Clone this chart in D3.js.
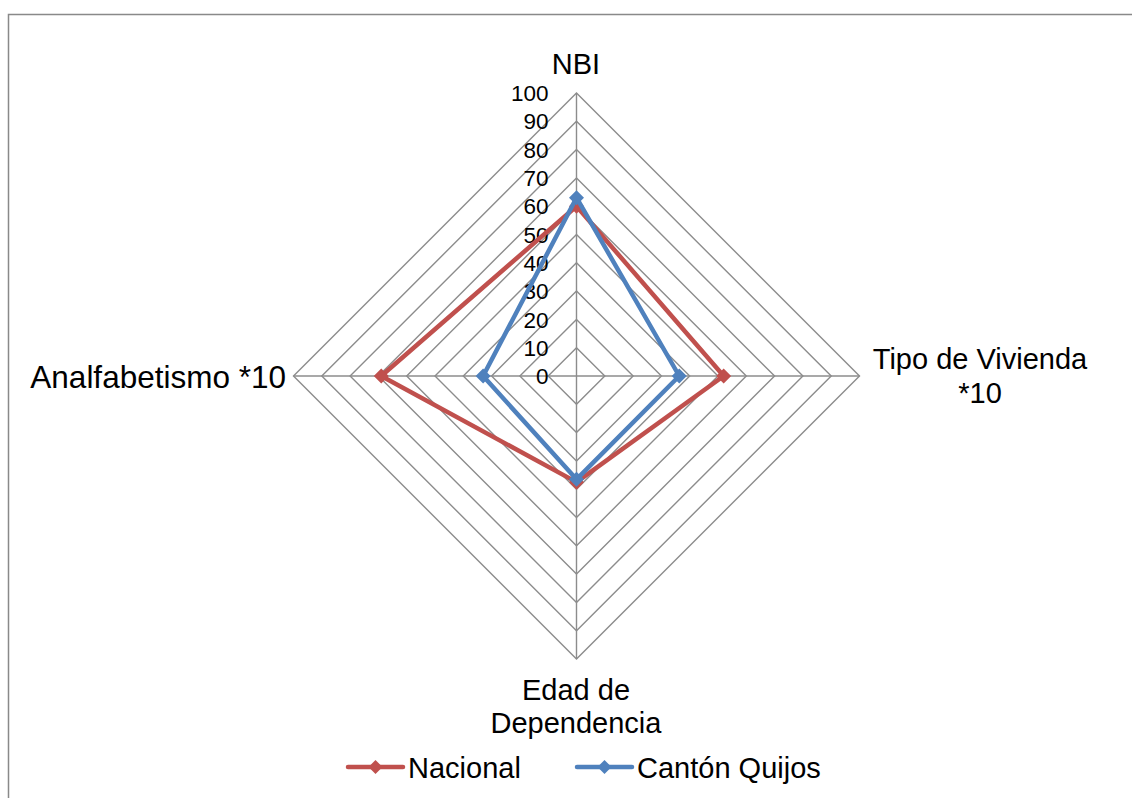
<!DOCTYPE html>
<html>
<head>
<meta charset="utf-8">
<script src="https://cdn.jsdelivr.net/npm/d3@7"></script>
<style>
  body { margin: 0; background: #fff; }
  svg { display: block; font-family: "Liberation Sans", Arial, sans-serif; }
</style>
</head>
<body>
<script>
// data
var axes = ["NBI", "Tipo de Vivienda *10", "Edad de Dependencia", "Analfabetismo *10"];
var seriesNames = ["Nacional", "Cantón Quijos"];
var nacional = [60, 52, 37.5, 69];
var quijos = [63, 36.3, 36.5, 33];
var ticks = [0, 10, 20, 30, 40, 50, 60, 70, 80, 90, 100];
var colors = ["#C0504D", "#4F81BD"];

var width = 1132, height = 798;
var cx = 576.5, cy = 376;

var svg = d3.select("body").append("svg")
    .attr("width", width)
    .attr("height", height);

// chart frame (runs off the right and bottom edges)
svg.append("rect")
    .attr("x", 8.5).attr("y", 14.5)
    .attr("width", 1140).attr("height", 800)
    .attr("fill", "none")
    .attr("stroke", "#898989")
    .attr("stroke-width", 1.5);

var r = d3.scaleLinear().domain([0, 100]).range([0, 283]);
// NBI up, then clockwise
var angle = function (i) { return -Math.PI / 2 + i * Math.PI / 2; };
var pt = function (i, v) {
    return [cx + r(v) * Math.cos(angle(i)), cy + r(v) * Math.sin(angle(i))];
};

var g = svg.append("g");

// rings
g.selectAll(".ring")
    .data(ticks.slice(1))
    .enter()
    .append("polygon")
    .attr("class", "ring")
    .attr("points", function (t) {
        return axes.map(function (a, i) { return pt(i, t).join(","); }).join(" ");
    })
    .attr("fill", "none")
    .attr("stroke", "#8c8c8c")
    .attr("stroke-width", 1.4);

// spokes
g.selectAll(".spoke")
    .data(axes)
    .enter()
    .append("line")
    .attr("x1", cx).attr("y1", cy)
    .attr("x2", function (d, i) { return pt(i, 100)[0]; })
    .attr("y2", function (d, i) { return pt(i, 100)[1]; })
    .attr("stroke", "#8c8c8c")
    .attr("stroke-width", 1.4);

// tick labels
g.selectAll(".tick")
    .data(ticks)
    .enter()
    .append("text")
    .attr("x", cx - 28)
    .attr("y", function (t) { return cy - r(t); })
    .attr("dy", "0.36em")
    .attr("text-anchor", "end")
    .style("font-size", "22.5px")
    .text(function (t) { return t; });

// axis labels
var labelFont = "29px";
svg.append("text").attr("x", 576).attr("y", 74).attr("text-anchor", "middle")
    .style("font-size", labelFont).text("NBI");
svg.append("text").attr("x", 980).attr("y", 369).attr("text-anchor", "middle")
    .style("font-size", labelFont)
    .selectAll("tspan").data(["Tipo de Vivienda", "*10"]).enter().append("tspan")
    .attr("x", 980).attr("dy", function (d, i) { return i ? 34 : 0; }).text(function (d) { return d; });
svg.append("text").attr("x", 576).attr("y", 700).attr("text-anchor", "middle")
    .style("font-size", labelFont)
    .selectAll("tspan").data(["Edad de", "Dependencia"]).enter().append("tspan")
    .attr("x", 576).attr("dy", function (d, i) { return i ? 33 : 0; }).text(function (d) { return d; });
svg.append("text").attr("x", 286).attr("y", 388).attr("text-anchor", "end")
    .style("font-size", "31.5px").text("Analfabetismo *10");

// square diamond marker
var diamond = function (s) { return "M0," + (-s) + "L" + s + ",0L0," + s + "L" + (-s) + ",0Z"; };
[nacional, quijos].forEach(function (vals, s) {
    var pts = vals.map(function (v, i) { return pt(i, v); });
    svg.append("path")
        .attr("d", d3.line().curve(d3.curveLinearClosed)(pts))
        .attr("fill", "none")
        .attr("stroke", colors[s])
        .attr("stroke-width", 4.5)
        .attr("stroke-linejoin", "round");
    svg.selectAll(".m" + s)
        .data(pts)
        .enter()
        .append("path")
        .attr("d", diamond(7.5))
        .attr("transform", function (p) { return "translate(" + p[0] + "," + p[1] + ")"; })
        .attr("fill", colors[s]);
});

// legend
var legX = [348, 577];
seriesNames.forEach(function (name, s) {
    var lg = svg.append("g").attr("transform", "translate(" + legX[s] + ",767)");
    lg.append("line").attr("x1", 0).attr("x2", 55)
        .attr("stroke", colors[s]).attr("stroke-width", 4.5).attr("stroke-linecap", "round");
    lg.append("path").attr("d", diamond(7)).attr("transform", "translate(27.5,0)").attr("fill", colors[s]);
    lg.append("text").attr("x", 60).attr("y", 10.5)
        .style("font-size", labelFont).text(name);
});
</script>
</body>
</html>
